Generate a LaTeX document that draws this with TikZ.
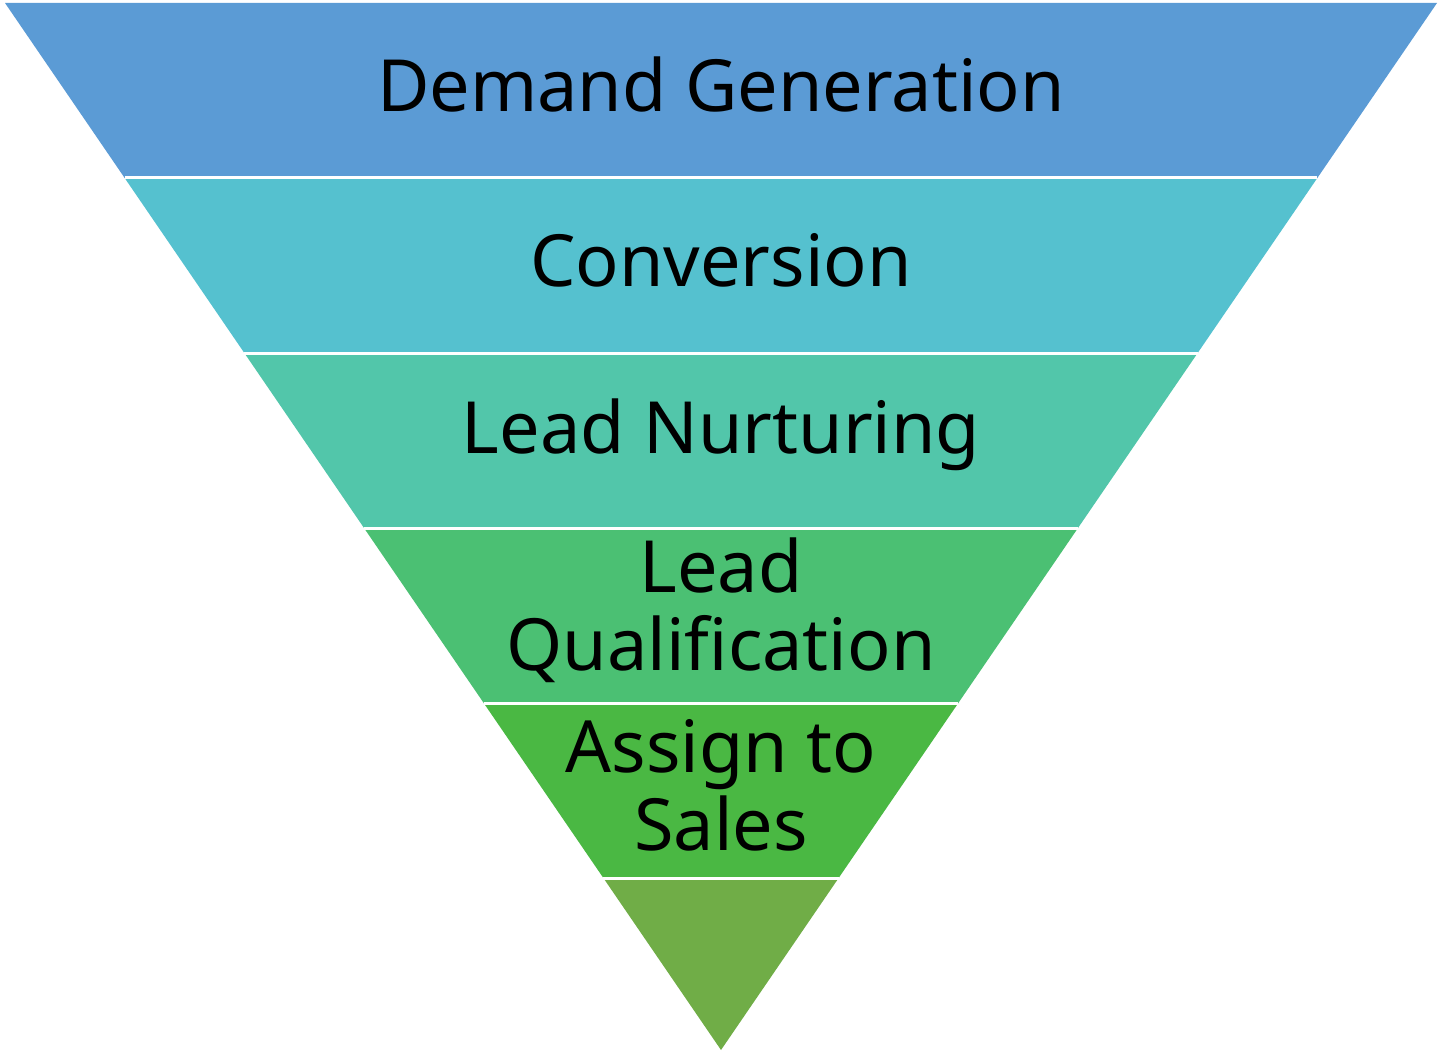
\documentclass[tikz,border=0pt]{standalone}
\usepackage{fontspec}
\setmainfont{Noto Sans}
\usetikzlibrary{positioning}
\definecolor{bandA}{HTML}{5B9BD5}
\definecolor{bandB}{HTML}{55C1CF}
\definecolor{bandC}{HTML}{52C6AA}
\definecolor{bandD}{HTML}{4BC073}
\definecolor{bandE}{HTML}{4AB843}
\definecolor{bandF}{HTML}{70AD47}
\tikzset{
	band/.style={draw=white,line width=1.5pt,line join=round},
	bandtext/.style={font=\fontsize{36}{39}\selectfont,align=center,text=black,inner sep=0pt}
}
\begin{document}
\begin{tikzpicture}[x=0.5pt,y=-0.5pt]
							\useasboundingbox (0,0) rectangle (1443,1053);
							% funnel bands, top to bottom
							\foreach \col [count=\i from 0] in {bandA,bandB,bandC,bandD,bandE,bandF}{
								\pgfmathsetmacro\ya{3+175*\i}
								\pgfmathsetmacro\yb{min(3+175*(\i+1),1050)}
								\pgfmathsetmacro\xa{5+(\ya-3)/1047*716}
								\pgfmathsetmacro\xb{5+(\yb-3)/1047*716}
								\fill[\col] (\xa,\ya) -- (1442-\xa,\ya) -- (1442-\xb,\yb) -- (\xb,\yb) -- cycle;
							}
							\foreach \i in {1,...,5}{
								\pgfmathsetmacro\ya{3+175*\i}
								\pgfmathsetmacro\xa{5+(\ya-3)/1047*716}
								\draw[band] (\xa,\ya) -- (1442-\xa,\ya);
							}
							\node[bandtext] (demand)  at (721,85)  {Demand Generation};
							\node[bandtext] (conv)    at (721,260) {Conversion};
							\node[bandtext] (nurture) at (721,435) {Lead Nurturing};
							\node[bandtext] (qualify) at (721,610) {Lead\\Qualification};
							\node[bandtext] (assign)  at (721,785) {Assign to\\Sales};
						\end{tikzpicture}
\end{document}
